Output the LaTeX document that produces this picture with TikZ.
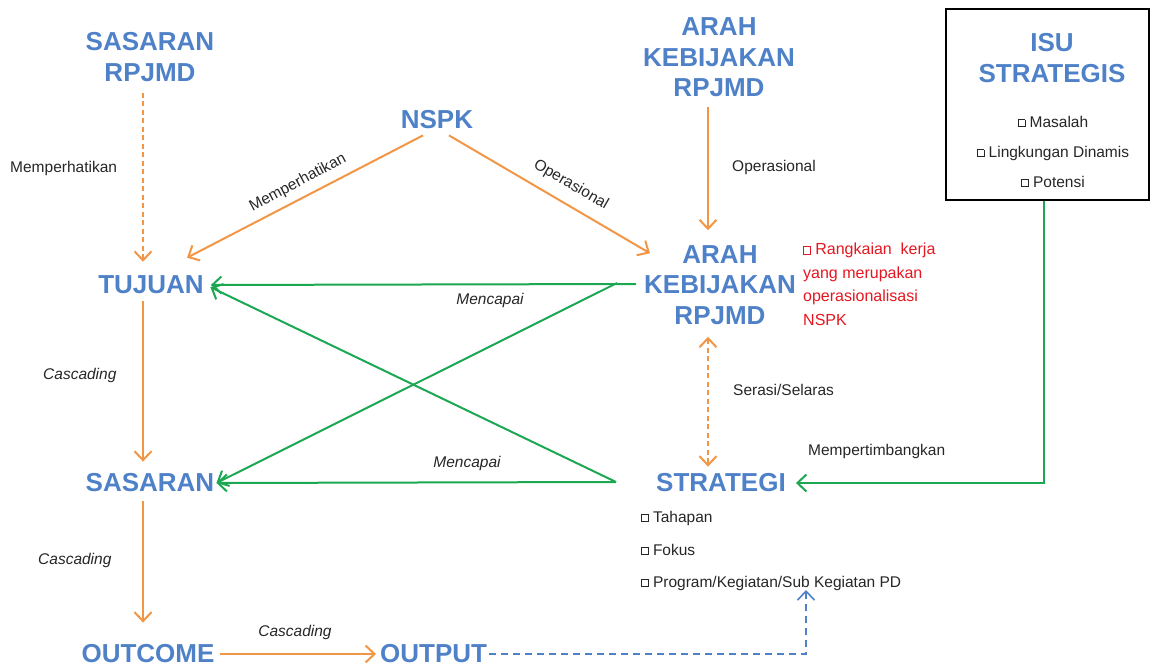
\documentclass[tikz,border=0pt]{standalone}
\usepackage{fontspec}
\setmainfont{Liberation Sans}
\usetikzlibrary{arrows.meta}
\definecolor{hdblue}{RGB}{79,129,200}
\definecolor{flow}{RGB}{242,150,70}
\definecolor{reach}{RGB}{28,168,82}
\definecolor{note}{RGB}{228,22,32}
% small hollow square used as a bullet
\newcommand{\sqbox}{\raisebox{0.08em}{\fboxsep=0pt\fboxrule=0.5pt\fbox{\rule{0pt}{0.42em}\hspace{0.42em}}}}

\tikzset{
  head/.style={text=hdblue, font=\fontsize{26}{30.5}\selectfont\bfseries, align=center, inner sep=2pt},
  lbl/.style={font=\fontsize{15.5}{20}\selectfont, text=black!85, inner sep=0pt},
  ilbl/.style={lbl, font=\fontsize{15.5}{20}\selectfont\itshape},
  barbtip/.style={-{Straight Barb[length=9pt,width=17pt]}},
  barbboth/.style={{Straight Barb[length=9pt,width=17pt]}-{Straight Barb[length=9pt,width=17pt]}},
  orangeflow/.style={draw=flow, line width=2pt, barbtip},
  orangedash/.style={draw=flow, line width=2pt, dash pattern=on 5pt off 3.5pt},
  greenflow/.style={draw=reach, line width=2pt, barbtip},
  bluedash/.style={draw=hdblue, line width=1.6pt, dash pattern=on 7pt off 5pt, barbtip},
}

\begin{document}
\begin{tikzpicture}[x=1pt,y=-1pt]
\useasboundingbox (0,0) rectangle (1152,669);

% main headings
\node[head] (srp) at (150,57) {SASARAN\\RPJMD};
\node[head] (nspk) at (437,120) {NSPK};
\node[head] (ak1) at (719,57.5) {ARAH\\KEBIJAKAN\\RPJMD};
\node[head] (tuj) at (151,285) {TUJUAN};
\node[head] (ak2) at (720,285) {ARAH\\KEBIJAKAN\\RPJMD};
\node[head] (sas) at (150,483) {SASARAN};
\node[head] (strat) at (721,483) {STRATEGI};
\node[head] (outc) at (148,654) {OUTCOME};
\node[head, anchor=west] (outp) at (378,654) {OUTPUT};

% strategic issues box
\node[draw=black, line width=2pt, minimum width=203pt, minimum height=191pt, inner sep=0pt] (isu) at (1047.5,104.5) {};
\node[head] (isut) at (1052,58) {ISU\\STRATEGIS};
\node[lbl, align=center, font=\fontsize{15.5}{30}\selectfont] (isui) at (1053,152)
  {\sqbox{} Masalah\\\sqbox{} Lingkungan Dinamis\\\sqbox{} Potensi};

% note beside the policy direction
\node[lbl, text=note, align=left, anchor=north west, font=\fontsize{16}{23.5}\selectfont] (rnote) at (803,243)
  {\sqbox{} Rangkaian\ \ kerja\\yang merupakan\\operasionalisasi\\NSPK};

% strategy items
\node[lbl, anchor=west] (s1) at (641,518) {\sqbox{} Tahapan};
\node[lbl, anchor=west] (s2) at (641,550) {\sqbox{} Fokus};
\node[lbl, anchor=west] (s3) at (641,583) {\sqbox{} Program/Kegiatan/Sub Kegiatan PD};

% connector labels
\node[lbl, anchor=west] (m1) at (10,168) {Memperhatikan};
\node[lbl, rotate=28] (m2) at (298,183) {Memperhatikan};
\node[lbl, rotate=-30] (op1) at (571,185) {Operasional};
\node[lbl, anchor=west] (op2) at (732,167) {Operasional};
\node[ilbl] (mc1) at (490,300) {Mencapai};
\node[ilbl] (mc2) at (467,463) {Mencapai};
\node[ilbl, anchor=west] (c1) at (43,375) {Cascading};
\node[ilbl, anchor=west] (c2) at (38,560) {Cascading};
\node[ilbl] (c3) at (295,632) {Cascading};
\node[lbl, anchor=west] (ss) at (733,390) {Serasi/Selaras};
\node[lbl, anchor=west] (mp) at (808,451) {Mempertimbangkan};

% orange connectors
\draw[orangedash, barbtip, shorten <=9pt, shorten >=12pt] ([xshift=-7pt]srp.south) -- ([xshift=-8pt]tuj.north);
\draw[orangeflow, shorten <=5pt, shorten >=10pt] ([xshift=-8pt]tuj.south) -- ([xshift=-7pt]sas.north);
\draw[orangeflow, shorten <=7pt, shorten >=20pt] ([xshift=-7pt]sas.south) -- ([xshift=-5pt]outc.north);
\draw[orangeflow, shorten <=3pt, shorten >=2pt] (outc.east) -- (outp.west);
\draw[orangeflow, shorten <=8pt, shorten >=13pt] ([xshift=-11pt]ak1.south) -- ([xshift=-12pt]ak2.north);
\draw[orangeflow] ([xshift=-14pt,yshift=-4pt]nspk.south) -- ([xshift=36pt,yshift=16pt]tuj.north);
\draw[orangeflow] ([xshift=12pt,yshift=-4pt]nspk.south) -- ([xshift=8pt,yshift=-10pt]ak2.north west);
\draw[orangedash, barbboth, shorten <=10pt, shorten >=5pt] ([xshift=-12pt]ak2.south) -- ([xshift=-13pt]strat.north);

% green connectors
\coordinate (gA) at (636,284);
\coordinate (gAx) at (617,283);
\coordinate (gS) at (616,482);
\draw[greenflow, shorten >=5pt] (gA) -- (tuj.east);
\draw[greenflow] (gAx) -- (sas.east);
\draw[greenflow] (gS) -- (sas.east);
\draw[greenflow, shorten >=5pt] (gS) -- (tuj.east);
\draw[greenflow, shorten >=8pt] ([xshift=-3.5pt]isu.south) |- (strat.east);

% blue dashed link from output to the programme list
\coordinate (ptip) at (806,590);
\draw[bluedash] (outp.east) -| (ptip);
\end{tikzpicture}
\end{document}
